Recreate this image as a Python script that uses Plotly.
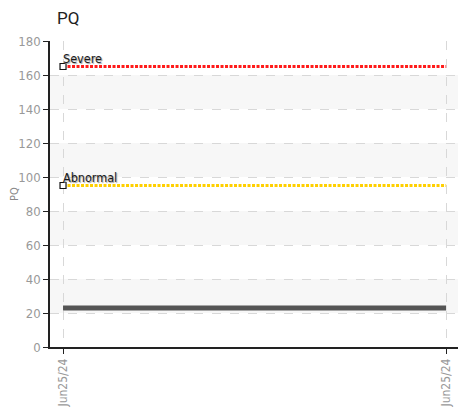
import plotly.graph_objects as go
import pandas as pd

# Data
dates = ["2024-06-25 06:00", "2024-06-25 18:00"]
pq_values = [23, 23]
thresholds = {"Severe": 165, "Abnormal": 95}
threshold_colors = {"Severe": "#ff1a1a", "Abnormal": "#ffd000"}
band_ranges = [(20, 40), (60, 80), (100, 120), (140, 160)]
y_ticks = [0, 20, 40, 60, 80, 100, 120, 140, 160, 180]
tick_label = "Jun25/24"

FONT = "DejaVu Sans Condensed, Liberation Sans Narrow, sans-serif"

W, H = 459, 401  # page has an 8px body margin

t = pd.to_datetime(dates)
span = t[1] - t[0]
x_range = [t[0] - span * 0.034, t[1] + span * 0.031]

fig = go.Figure()

for lo, hi in band_ranges:
    fig.add_shape(type="rect", xref="paper", yref="y", x0=0, x1=1, y0=lo, y1=hi,
                  fillcolor="#f7f7f7", line_width=0, layer="below")

for name, val in thresholds.items():
    fig.add_trace(go.Scatter(
        x=[t[0], t[1]], y=[val, val], mode="lines",
        line=dict(color=threshold_colors[name], width=3, dash="3px,1.5px"),
        hoverinfo="skip", showlegend=False))
    fig.add_trace(go.Scatter(
        x=[t[0]], y=[val], mode="markers",
        marker=dict(symbol="square", size=6, color="white",
                    line=dict(color="#111", width=1.2)),
        hoverinfo="skip", showlegend=False))
    fig.add_annotation(x=t[0], y=val, text=name, xanchor="left", yanchor="bottom",
                       xshift=-2, yshift=-1, showarrow=False,
                       font=dict(family=FONT, size=12.5, color="#1a1a1a",
                                 shadow="1px 1px 1px #9a9a9a"))

fig.add_trace(go.Scatter(
    x=t, y=pq_values, mode="lines",
    line=dict(color="#555555", width=5), showlegend=False, name="PQ"))

fig.update_layout(
    width=W, height=H,
    margin=dict(l=42, r=9, t=33, b=62, autoexpand=False),
    paper_bgcolor="white", plot_bgcolor="white",
    title=dict(text="PQ", x=49 / W, xanchor="left", xref="container",
               y=1 - 10 / H, yanchor="middle", pad=dict(l=0, r=0, t=0, b=0),
               font=dict(family="Roboto, sans-serif", size=17, color="#222")),
    showlegend=False,
)

fig.update_xaxes(
    type="date", range=x_range, automargin=False,
    tickvals=list(t), ticktext=[tick_label, tick_label], tickangle=-90,
    tickfont=dict(family=FONT, size=12, color="#999"),
    showgrid=True, gridcolor="#d8d8d8", griddash="dash", gridwidth=1,
    showline=True, linecolor="#222", linewidth=1.5,
    ticks="outside", ticklen=5, tickcolor="#222",
    zeroline=False,
)
fig.update_yaxes(
    range=[0, 180], tickvals=y_ticks, automargin=False,
    tickfont=dict(family=FONT, size=13, color="#999"),
    showgrid=True, gridcolor="#d8d8d8", griddash="dash", gridwidth=1,
    showline=True, linecolor="#222", linewidth=1.5,
    ticks="outside", ticklen=5, tickcolor="#222",
    zeroline=False,
    title=dict(text="PQ", font=dict(family=FONT, size=11, color="#888"), standoff=6),
)

fig.write_html("out.html")
